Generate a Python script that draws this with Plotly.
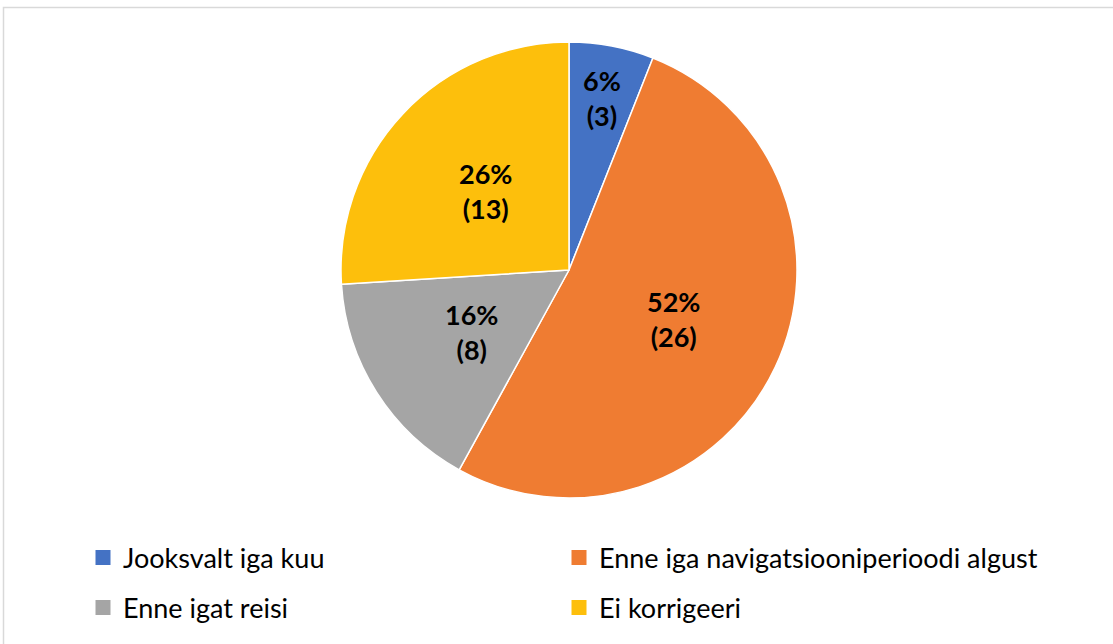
import math
import plotly.graph_objects as go

categories = ["Jooksvalt iga kuu", "Enne iga navigatsiooniperioodi algust", "Enne igat reisi", "Ei korrigeeri"]
counts = [3, 26, 8, 13]
percents = ["6%", "52%", "16%", "26%"]
colors = ["#4472C4", "#EF7C32", "#A5A5A5", "#FDBF0C"]

W, H = 1113, 644
cx, cy, R = 569, 270, 228
# radial placement of each data label, as a fraction of the radius (style)
label_radius = [0.77, 0.505, 0.505, 0.505]
# legend grid (style): column left edges and row centres, in pixels
legend_cols = [83, 559]
legend_rows = [558, 608]

fig = go.Figure()
fig.add_trace(go.Pie(
    labels=categories, values=counts, sort=False, direction="clockwise", rotation=0,
    marker=dict(colors=colors, line=dict(color="white", width=1.5)),
    textinfo="none",
    domain=dict(x=[(cx - R) / W, (cx + R) / W], y=[(H - cy - R) / H, (H - cy + R) / H]),
    showlegend=False, hoverinfo="label+value+percent",
))

# data labels placed along each slice's mid angle
total = sum(counts)
annotations = []
cum = 0
for c, p, rf in zip(counts, percents, label_radius):
    mid = (cum + c / 2) / total * 2 * math.pi
    cum += c
    px = cx + rf * R * math.sin(mid)
    py = cy - rf * R * math.cos(mid)
    annotations.append(dict(
        x=px / W, y=(H - py) / H, xref="paper", yref="paper",
        text=f"<b>{p}<br>({c})</b>", showarrow=False,
        xanchor="center", yanchor="middle",
        font=dict(family="Lato", size=27, color="black"),
    ))

legend_names = ["legend", "legend2", "legend3", "legend4"]
layout_legends = {}
for i, (cat, col) in enumerate(zip(categories, colors)):
    lname = legend_names[i]
    fig.add_trace(go.Scatter(
        x=[None], y=[None], mode="markers", name=cat,
        marker=dict(symbol="square", size=15, color=col),
        legend=lname,
    ))
    lx = legend_cols[i % 2]
    ly = legend_rows[i // 2]
    layout_legends[lname] = dict(
        x=lx / W, y=(H - ly) / H, xanchor="left", yanchor="middle",
        orientation="v", font=dict(family="Lato", size=27, color="black"),
        bgcolor="rgba(0,0,0,0)", itemclick=False,
    )

fig.update_layout(
    width=W, height=H, margin=dict(l=0, r=0, t=0, b=0),
    paper_bgcolor="white", plot_bgcolor="white",
    xaxis=dict(visible=False), yaxis=dict(visible=False),
    annotations=annotations,
    shapes=[dict(type="rect", xref="paper", yref="paper",
                 x0=3.5 / W, x1=1.01, y0=-0.01, y1=(H - 7.5) / H,
                 line=dict(color="#D9D9D9", width=1.5), fillcolor="rgba(0,0,0,0)")],
    **layout_legends,
)
fig.write_html("out.html")
